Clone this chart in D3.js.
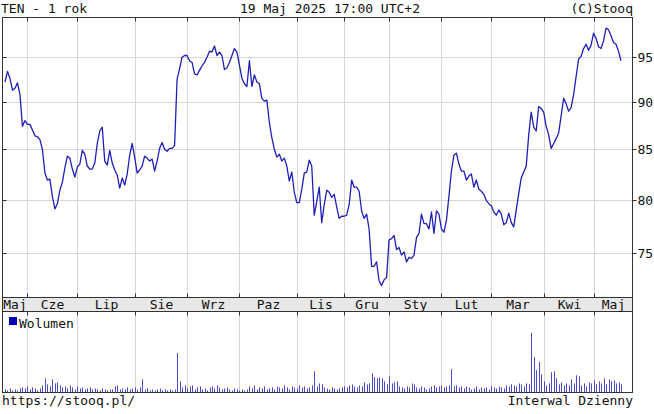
<!DOCTYPE html>
<html>
<head>
<meta charset="utf-8">
<script src="https://cdn.jsdelivr.net/npm/d3@7"></script>
<style>
  body { margin: 0; background: #fff; }
  text { font-family: "DejaVu Sans Mono", monospace; font-size: 13px; fill: #111; }
</style>
</head>
<body>
<script>
// daily closes, one per trading day (20 May 2024 - 19 May 2025)
const CLOSES = [
  92.2, 93.4, 92.6, 91.3, 91.5, 92.1, 90.8, 87.4, 88.0, 87.6,
  87.6, 87.0, 86.4, 86.3, 86.0, 85.0, 82.6, 81.9, 82.0, 80.3,
  79.1, 79.6, 80.9, 81.7, 83.1, 84.3, 84.1, 83.0, 82.2, 83.2,
  83.5, 84.9, 84.5, 83.3, 83.0, 83.0, 83.6, 85.6, 86.9, 87.3,
  83.8, 83.4, 84.9, 83.6, 82.9, 82.4, 81.1, 82.1, 81.4, 82.5,
  84.4, 85.6, 84.2, 82.6, 82.9, 83.3, 84.3, 84.1, 83.8, 84.0,
  82.8, 83.8, 85.1, 85.7, 85.0, 84.8, 85.1, 85.1, 85.4, 92.5,
  93.7, 95.0, 95.2, 95.2, 94.6, 94.4, 93.1, 93.0, 93.5, 94.0,
  94.4, 95.0, 95.7, 95.6, 96.3, 95.2, 95.6, 95.2, 93.6, 93.8,
  94.4, 95.2, 96.0, 95.6, 94.1, 92.6, 92.0, 91.7, 94.6, 91.7,
  93.0, 92.2, 92.0, 90.4, 90.1, 90.2, 87.8, 86.2, 85.0, 84.2,
  84.5, 83.8, 84.1, 83.3, 81.8, 82.7, 80.7, 79.7, 79.7, 81.0,
  82.6, 82.7, 83.9, 83.3, 78.5, 79.8, 81.2, 77.8, 79.5, 80.9,
  80.7, 80.2, 80.5, 79.3, 78.2, 78.4, 78.4, 78.5, 79.5, 81.9,
  81.2, 81.2, 80.8, 78.9, 78.2, 78.6, 77.2, 73.8, 73.8, 74.2,
  72.5, 72.1, 72.6, 72.8, 76.2, 76.3, 76.6, 75.3, 75.5, 74.8,
  75.1, 74.2, 74.6, 74.5, 74.8, 76.4, 76.8, 78.6, 77.7, 77.7,
  77.2, 78.8, 76.8, 78.9, 78.6, 77.2, 76.9, 78.0, 80.3, 82.8,
  84.4, 84.6, 83.5, 82.8, 82.8, 81.9, 82.3, 82.5, 81.2, 81.9,
  81.0, 80.8, 80.5, 79.9, 79.6, 79.4, 78.8, 78.5, 79.0, 78.6,
  77.6, 77.8, 78.7, 77.8, 77.4, 79.0, 80.6, 82.1, 82.7, 83.3,
  86.5, 88.9, 87.3, 86.9, 89.5, 89.3, 88.9, 87.4, 86.5, 85.1,
  85.6, 86.1, 86.7, 88.5, 90.4, 89.8, 89.0, 89.4, 90.8, 92.8,
  94.8, 95.1, 96.0, 96.5, 95.8, 96.4, 97.8, 97.2, 96.2, 96.0,
  96.9, 98.4, 98.2, 97.5, 96.7, 96.5, 95.7, 94.6
];

// daily volume (thousand shares)
const VOLUME = [
  3, 2, 4, 2, 3, 2, 4, 5, 4, 6,
  3, 5, 4, 2, 4, 7, 14, 8, 6, 13,
  9, 10, 7, 5, 6, 4, 7, 5, 3, 6,
  4, 5, 3, 4, 5, 3, 4, 3, 2, 4,
  3, 2, 3, 3, 6, 7, 3, 4, 3, 5,
  3, 4, 5, 3, 5, 13, 3, 4, 2, 3,
  2, 3, 4, 2, 3, 2, 3, 2, 3, 39,
  11, 5, 7, 4, 6, 7, 3, 5, 6, 3,
  4, 2, 5, 6, 4, 7, 5, 3, 4, 5,
  3, 2, 4, 3, 2, 3, 2, 3, 6, 4,
  7, 3, 5, 4, 6, 3, 4, 5, 3, 6,
  5, 4, 7, 5, 3, 6, 5, 4, 7, 5,
  6, 4, 5, 7, 21, 6, 9, 8, 5, 4,
  3, 5, 4, 3, 4, 5, 6, 5, 7, 8,
  6, 5, 7, 6, 10, 8, 9, 19, 15, 14,
  15, 14, 11, 8, 16, 9, 10, 11, 6, 5,
  4, 6, 5, 9, 8, 5, 4, 6, 5, 3,
  4, 6, 7, 5, 6, 7, 5, 6, 7, 23,
  6, 7, 5, 6, 4, 6, 5, 3, 4, 6,
  3, 5, 4, 5, 3, 6, 5, 4, 6, 5,
  4, 7, 6, 8, 7, 6, 9, 8, 6, 9,
  8, 59, 35, 22, 30, 18, 11, 7, 9, 20,
  21, 14, 8, 10, 7, 9, 7, 13, 9, 17,
  16, 7, 9, 6, 10, 9, 12, 8, 11, 9,
  14, 8, 13, 11, 12, 9, 10, 8
];

// month labels and index of first trading day of each month
const MONTHS = ["Maj", "Cze", "Lip", "Sie", "Wrz", "Paz", "Lis", "Gru", "Sty", "Lut", "Mar", "Kwi", "Maj"];
const MONTH_START = [9, 29, 52, 73, 94, 117, 136, 154, 175, 195, 216, 236];

const PRICE_TICKS = [75, 80, 85, 90, 95];
const PRICE_DOMAIN = [71.07, 99.67];

const width = 654;
const height = 414;

const plotLeft = 2.5, plotRight = 632.5;
const plotTop = 17.5, bandTop = 297.5, bandBottom = 311.5, plotBottom = 392.5;

const x = d3.scaleLinear()
  .domain([0, CLOSES.length - 1])
  .range([5, 621]);

const y = d3.scaleLog()
  .domain(PRICE_DOMAIN)
  .range([bandTop, plotTop]);

const yVol = d3.scaleLinear()
  .domain([0, 80])
  .range([plotBottom, bandBottom]);

document.addEventListener("DOMContentLoaded", function () {
  let svg = d3.select("body").append("svg")
    .attr("width", width)
    .attr("height", height);

  // month boundaries
  const bounds = MONTH_START.map(function (d) { return Math.round(x(d)) + 0.5; });

  // grid, price panel
  svg.append("g").selectAll("line")
    .data(bounds)
    .enter().append("line")
      .attr("x1", function (d) { return d; })
      .attr("x2", function (d) { return d; })
      .attr("y1", plotTop)
      .attr("y2", bandTop)
      .attr("stroke", "#d6d6d6");

  svg.append("g").selectAll("line")
    .data(PRICE_TICKS)
    .enter().append("line")
      .attr("x1", plotLeft)
      .attr("x2", plotRight)
      .attr("y1", function (d) { return Math.round(y(d)) + 0.5; })
      .attr("y2", function (d) { return Math.round(y(d)) + 0.5; })
      .attr("stroke", "#d6d6d6");

  // grid, volume panel
  svg.append("g").selectAll("line")
    .data(bounds)
    .enter().append("line")
      .attr("x1", function (d) { return d; })
      .attr("x2", function (d) { return d; })
      .attr("y1", bandBottom)
      .attr("y2", plotBottom)
      .attr("stroke", "#d6d6d6");

  // month band
  svg.append("rect")
    .attr("x", plotLeft)
    .attr("y", bandTop)
    .attr("width", plotRight - plotLeft)
    .attr("height", bandBottom - bandTop)
    .attr("fill", "#e8e8e8");

  // price line
  const line = d3.line()
    .x(function (d, i) { return x(i); })
    .y(function (d) { return y(d); });

  svg.append("path")
    .datum(CLOSES)
    .attr("d", line)
    .attr("fill", "none")
    .attr("stroke", "#1f1fb8")
    .attr("stroke-width", 1.3)
    .attr("stroke-linejoin", "round");

  // volume bars
  svg.append("g").selectAll("rect")
    .data(VOLUME)
    .enter().append("rect")
      .attr("x", function (d, i) { return Math.round(x(i)); })
      .attr("y", function (d) { return yVol(d); })
      .attr("width", 1)
      .attr("height", function (d) { return plotBottom - yVol(d); })
      .attr("fill", "#4a4ac4");

  // frames
  const frame = svg.append("g")
    .attr("fill", "none")
    .attr("stroke", "#333");
  frame.append("rect")
    .attr("x", plotLeft).attr("y", plotTop)
    .attr("width", plotRight - plotLeft).attr("height", plotBottom - plotTop);
  frame.append("line")
    .attr("x1", plotLeft).attr("x2", plotRight)
    .attr("y1", bandTop).attr("y2", bandTop);
  frame.append("line")
    .attr("x1", plotLeft).attr("x2", plotRight)
    .attr("y1", bandBottom).attr("y2", bandBottom);

  // month ticks
  const ticks = svg.append("g").attr("stroke", "#333");
  bounds.forEach(function (b) {
    ticks.append("line").attr("x1", b).attr("x2", b).attr("y1", plotTop).attr("y2", plotTop + 4);
    ticks.append("line").attr("x1", b).attr("x2", b).attr("y1", bandTop - 4).attr("y2", bandTop);
    ticks.append("line").attr("x1", b).attr("x2", b).attr("y1", bandBottom).attr("y2", bandBottom + 4);
  });

  // price ticks, left inside and right outside
  PRICE_TICKS.forEach(function (d) {
    const py = Math.round(y(d)) + 0.5;
    ticks.append("line").attr("x1", plotLeft).attr("x2", plotLeft + 4).attr("y1", py).attr("y2", py);
    ticks.append("line").attr("x1", plotRight).attr("x2", plotRight + 4).attr("y1", py).attr("y2", py);
  });

  // right axis labels
  svg.append("g").selectAll("text")
    .data(PRICE_TICKS)
    .enter().append("text")
      .attr("x", plotRight + 5)
      .attr("y", function (d) { return y(d) + 5; })
      .text(function (d) { return d; });

  // month labels, centred between boundaries
  const edges = [plotLeft].concat(bounds).concat([plotRight]);
  svg.append("g").selectAll("text")
    .data(MONTHS)
    .enter().append("text")
      .attr("x", function (d, i) { return (edges[i] + edges[i + 1]) / 2; })
      .attr("y", bandBottom - 2.5)
      .attr("text-anchor", "middle")
      .text(function (d) { return d; });

  // legend
  svg.append("rect")
    .attr("x", 9).attr("y", 317)
    .attr("width", 8).attr("height", 8)
    .attr("fill", "#0000b4");
  svg.append("text")
    .attr("x", 19).attr("y", 328)
    .text("Wolumen");

  // header and footer
  svg.append("text").attr("x", 1).attr("y", 13).text("TEN - 1 rok");
  svg.append("text").attr("x", 330).attr("y", 13).attr("text-anchor", "middle")
    .text("19 Maj 2025 17:00 UTC+2");
  svg.append("text").attr("x", 633).attr("y", 13).attr("text-anchor", "end").text("(C)Stooq");
  svg.append("text").attr("x", 2).attr("y", 405).text("https://stooq.pl/");
  svg.append("text").attr("x", 633).attr("y", 405).attr("text-anchor", "end").text("Interwal Dzienny");
});
</script>
</body>
</html>
